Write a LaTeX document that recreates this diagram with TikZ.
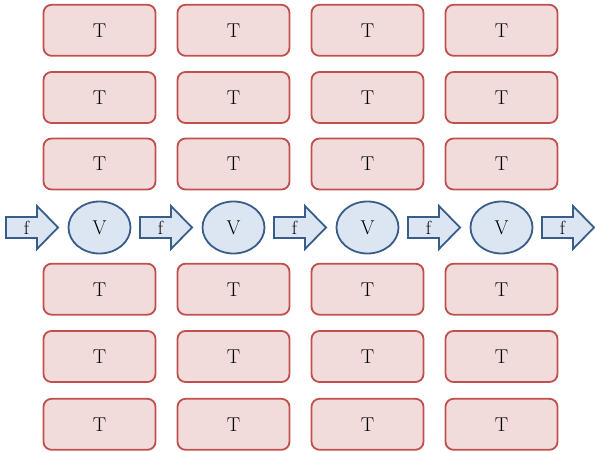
\documentclass[tikz,border=0pt]{standalone}
\usepackage{fontspec}
\setmainfont{Latin Modern Roman}
\usetikzlibrary{shapes.geometric}
\definecolor{tfill}{HTML}{F2DCDB}
\definecolor{tborder}{HTML}{C0504D}
\definecolor{vfill}{HTML}{DCE6F2}
\definecolor{vborder}{HTML}{385D8A}
\begin{document}
\begin{tikzpicture}[x=1pt,y=-1pt,
  tbox/.style={draw=tborder, fill=tfill, line width=1.8pt, rounded corners=8pt,
    minimum width=112pt, minimum height=51pt, inner sep=0pt,
    font=\fontsize{20}{24}\selectfont},
  vnode/.style={ellipse, draw=vborder, fill=vfill, line width=1.8pt,
    minimum width=62pt, minimum height=52pt, inner sep=0pt,
    font=\fontsize{20}{24}\selectfont},
  arr/.style={draw=vborder, fill=vfill, line width=1.8pt, line join=miter},
  flabel/.style={inner sep=0pt, font=\fontsize{19}{24}\selectfont}]
\useasboundingbox (0,0) rectangle (595,452);
\foreach \c [count=\i] in {99.5,233.5,367.5,501.5} {
  \foreach \r [count=\j] in {30.3,97.5,164,289.2,356.5,424.3}
    \node[tbox] (t\i\j) at (\c,\r) {T};
  \node[vnode] (v\i) at (\c,227.5) {V};
}
\foreach \k in {0,...,4} {
  \pgfmathsetmacro\xa{6+134*\k}
  \draw[arr] (\xa,217) -- ({\xa+31},217) -- ({\xa+31},206) -- ({\xa+52},227.5)
    -- ({\xa+31},249) -- ({\xa+31},238) -- (\xa,238) -- cycle;
  \node[flabel] (f\k) at ({\xa+20.5},227.5) {f};
}
\end{tikzpicture}
\end{document}
